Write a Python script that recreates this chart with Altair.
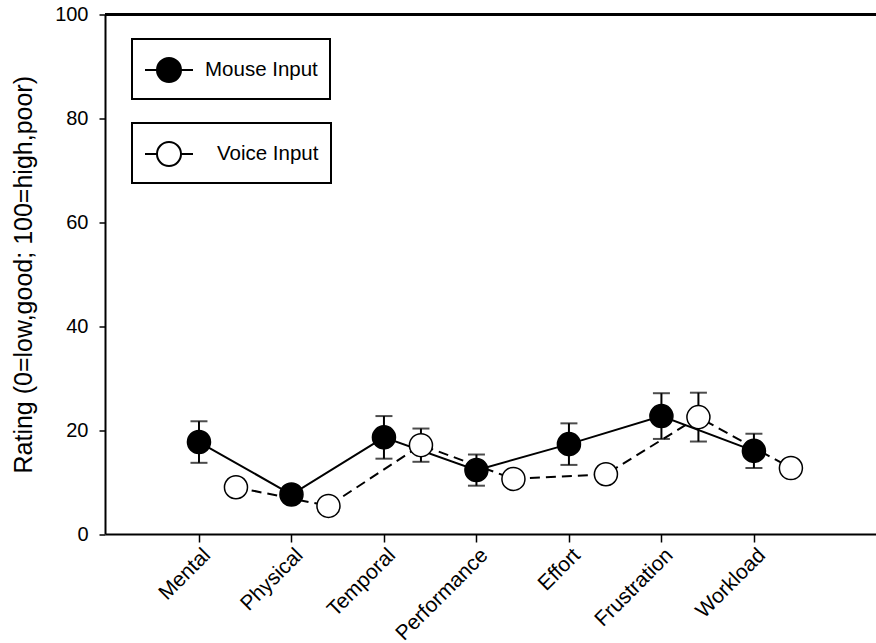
import altair as alt
import pandas as pd

# NASA-TLX subscale ratings (mean and standard error) for the two input methods
categories = ["Mental", "Physical", "Temporal", "Performance", "Effort", "Frustration", "Workload"]
mouse_mean = [17.7, 7.6, 18.6, 12.3, 17.3, 22.7, 16.0]
mouse_se = [4.0, 1.5, 4.1, 3.0, 4.0, 4.4, 3.3]
voice_mean = [9.0, 5.4, 17.1, 10.6, 11.5, 22.5, 12.7]
voice_se = [1.5, 1.5, 3.2, 1.5, 1.5, 4.7, 1.5]
series_names = ["Mouse Input", "Voice Input"]
y_ticks = [0, 20, 40, 60, 80, 100]

# voice points sit a little to the right of each category tick
VOICE_SHIFT = 0.4
FONT = "Liberation Sans"


def frame(means, ses, name, shift):
    return pd.DataFrame({
        "pos": [i + shift for i in range(len(categories))],
        "category": categories,
        "mean": means,
        "lo": [m - s for m, s in zip(means, ses)],
        "hi": [m + s for m, s in zip(means, ses)],
        "series": name,
    })


mouse = frame(mouse_mean, mouse_se, series_names[0], 0.0)
voice = frame(voice_mean, voice_se, series_names[1], VOICE_SHIFT)

label_expr = "[" + ",".join(f"'{c}'" for c in categories) + "][datum.value]"

x_scale = alt.Scale(domain=[-1.016, 7.32], nice=False, zero=False)
y_scale = alt.Scale(domain=[0, 100], nice=False)

x_axis = alt.Axis(
    values=list(range(len(categories))), labelExpr=label_expr, labelAngle=-45,
    labelOverlap=False, title=None, grid=False, tickSize=8, tickWidth=1.5,
    domainWidth=2, labelFontSize=21, labelPadding=2,
)
y_axis = alt.Axis(
    values=y_ticks, title="Rating (0=low,good; 100=high,poor)", grid=False,
    tickSize=6, tickWidth=1.5, domainWidth=2, labelFontSize=20, labelPadding=11,
    titleFontSize=25, titleFontWeight="normal", titlePadding=18,
)


def X(field="pos"):
    return alt.X(f"{field}:Q", scale=x_scale, axis=x_axis)


def Y(field):
    return alt.Y(f"{field}:Q", scale=y_scale, axis=y_axis)


# legend glyph: a short line with a circle on it
SYMBOL = ("M-1.333,0H-0.667M0.667,0H1.333"
          "M-0.667,0A0.667,0.667 0 1,0 0.667,0A0.667,0.667 0 1,0 -0.667,0Z")


def series_layers(df, fill, dash, legend_y, label_offset):
    base = alt.Chart(df)
    err = base.mark_rule(color="black", strokeWidth=2).encode(x=X(), y=Y("lo"), y2="hi")
    caps = base.transform_fold(["lo", "hi"], as_=["end", "val"]).mark_tick(
        color="black", orient="horizontal", size=17, thickness=2
    ).encode(x=X(), y=Y("val"))
    line_kwargs = dict(color="black", strokeWidth=2)
    if dash:
        line_kwargs["strokeDash"] = dash
    line = base.mark_line(**line_kwargs).encode(x=X(), y=Y("mean"))
    pts = base.mark_point(
        shape="circle", size=531, stroke="black", strokeWidth=1.5, opacity=1
    ).encode(
        x=X(), y=Y("mean"),
        fill=alt.Fill(
            "series:N",
            scale=alt.Scale(domain=[df["series"].iloc[0]], range=[fill]),
            legend=alt.Legend(
                title=None, orient="none", legendX=27, legendY=legend_y,
                strokeColor="black", fillColor="white", padding=12,
                symbolType=SYMBOL, symbolSize=1296, symbolOffset=6,
                symbolStrokeColor="black", symbolStrokeWidth=2,
                labelOffset=label_offset, labelFontSize=20.5, labelFont=FONT,
                labelColor="black",
            ),
        ),
    )
    return [err, caps, line, pts]


top_edge = alt.Chart(mouse).mark_rule(color="black", strokeWidth=2).encode(y=alt.datum(100))

layers = (series_layers(mouse, "black", None, 24.5, 17)
          + series_layers(voice, "white", [10, 6], 108.5, 29)
          + [top_edge])

chart = alt.layer(*layers).resolve_scale(fill="independent").properties(
    width=771, height=519.5,
    autosize=alt.AutoSizeParams(type="none"),
    padding={"left": 105, "top": 14.5, "right": 0, "bottom": 109},
).configure_view(strokeWidth=0).configure_axis(
    labelFont=FONT, titleFont=FONT, labelColor="black", titleColor="black",
    domainColor="black", tickColor="black",
).configure_legend(strokeWidth=2)

chart.save("out.html", embed_options={"renderer": "svg", "actions": False})
